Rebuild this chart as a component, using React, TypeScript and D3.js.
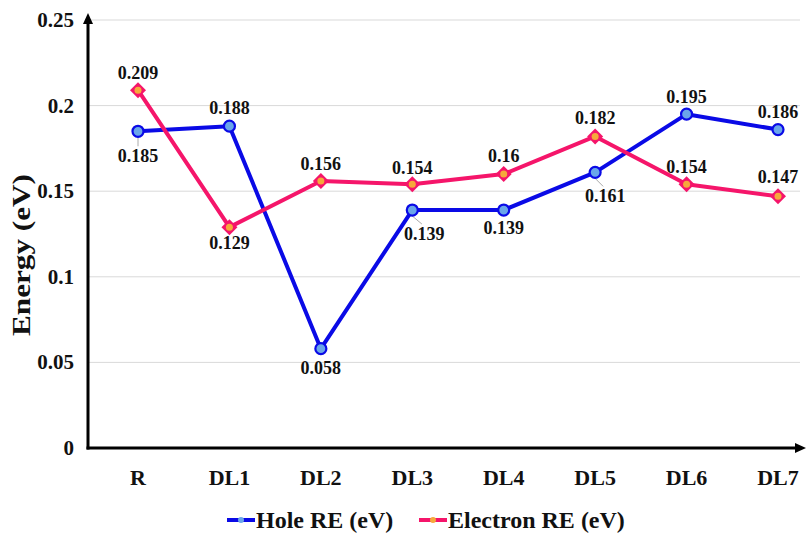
import React from "react";
import * as d3 from "d3";

const categories = ["R", "DL1", "DL2", "DL3", "DL4", "DL5", "DL6", "DL7"];
const holeRE = [0.185, 0.188, 0.058, 0.139, 0.139, 0.161, 0.195, 0.186];
const electronRE = [0.209, 0.129, 0.156, 0.154, 0.16, 0.182, 0.154, 0.147];
const yTicks = [0, 0.05, 0.1, 0.15, 0.2, 0.25];
const yTickLabels = ["0", "0.05", "0.1", "0.15", "0.2", "0.25"];

// label placement (layout only)
const holeLabelDx = [0, 0, 0, 12, 0, 10, 0, 0];
const holeLabelDy = [31, -12, 25, 30, 24, 30, -11, -12];
const holeLeader = [true, false, false, true, false, true, false, false];
const electronLabelDx = [0, 0, 0, 0, 0, 0, 0, 0];
const electronLabelDy = [-11, 22, -11, -10, -12, -12, -11, -13];

const W = 807, H = 535;
const FONT = "'Liberation Serif', 'Times New Roman', serif";
const BLUE = "#0a0ae6";
const BLUE_FILL = "#6aa6ea";
const PINK = "#f5156a";
const ORANGE = "#f6a93b";

export default function App() {
  const x = d3.scalePoint<string>().domain(categories).range([138, 778]);
  const y = d3.scaleLinear().domain([0, 0.25]).range([448, 20]);
  const line = d3.line<number>().x((_, i) => x(categories[i])!).y((d) => y(d));
  const axisX = 88;

  return (
    <div style={{ position: "absolute", left: 0, top: 0 }}>
      <svg width={W} height={H} style={{ display: "block", background: "#fff" }} fontFamily={FONT}>
        {/* gridlines */}
        {yTicks.slice(1).map((t) => (
          <line key={t} x1={axisX} x2={800} y1={y(t)} y2={y(t)} stroke="#d9d9d9" strokeWidth={1} />
        ))}
        {/* y tick labels */}
        {yTicks.map((t, i) => (
          <text key={t} x={74} y={y(t) + 7} textAnchor="end" fontSize={21} fontWeight="bold" fill="#111">
            {yTickLabels[i]}
          </text>
        ))}
        {/* axes */}
        <line x1={axisX} x2={axisX} y1={449.5} y2={22} stroke="#000" strokeWidth={3} />
        <path d={`M${axisX - 5},24 L${axisX},13 L${axisX + 5},24 Z`} fill="#000" />
        <line x1={axisX - 1.5} x2={797} y1={448} y2={448} stroke="#000" strokeWidth={3} />
        <path d={`M795,443 L806,448 L795,453 Z`} fill="#000" />
        {/* x labels */}
        {categories.map((c) => (
          <text key={c} x={x(c)} y={485} textAnchor="middle" fontSize={22} fontWeight="bold" fill="#111">
            {c}
          </text>
        ))}
        {/* y title */}
        <text
          transform={`translate(30,255) rotate(-90)`}
          textAnchor="middle"
          fontSize={25}
          fontWeight="bold"
          fill="#111"
          textLength={162}
          lengthAdjust="spacingAndGlyphs"
        >
          Energy (eV)
        </text>
        {/* leader lines */}
        {holeRE.map((v, i) =>
          holeLeader[i] ? (
            <line
              key={i}
              x1={x(categories[i])}
              y1={y(v) + 6}
              x2={x(categories[i])! + holeLabelDx[i] * 0.8}
              y2={y(v) + holeLabelDy[i] - 16}
              stroke="#aaa"
              strokeWidth={1}
            />
          ) : null
        )}
        {/* lines */}
        <path d={line(holeRE) || ""} fill="none" stroke={BLUE} strokeWidth={4} strokeLinejoin="round" />
        <path d={line(electronRE) || ""} fill="none" stroke={PINK} strokeWidth={4} strokeLinejoin="round" />
        {/* hole markers */}
        {holeRE.map((v, i) => (
          <circle key={i} cx={x(categories[i])} cy={y(v)} r={5.5} fill={BLUE_FILL} stroke={BLUE} strokeWidth={2.2} />
        ))}
        {/* electron markers */}
        {electronRE.map((v, i) => {
          const cx = x(categories[i])!;
          const cy = y(v);
          return (
            <g key={i}>
              <path d={`M${cx},${cy - 8} L${cx + 8},${cy} L${cx},${cy + 8} L${cx - 8},${cy} Z`} fill={PINK} />
              <circle cx={cx} cy={cy} r={3.5} fill={ORANGE} />
            </g>
          );
        })}
        {/* hole labels */}
        {holeRE.map((v, i) => (
          <text
            key={i}
            x={x(categories[i])! + holeLabelDx[i]}
            y={y(v) + holeLabelDy[i]}
            textAnchor="middle"
            fontSize={18}
            fontWeight="bold"
            fill="#111"
          >
            {String(v)}
          </text>
        ))}
        {/* electron labels */}
        {electronRE.map((v, i) => (
          <text
            key={i}
            x={x(categories[i])! + electronLabelDx[i]}
            y={y(v) + electronLabelDy[i]}
            textAnchor="middle"
            fontSize={18}
            fontWeight="bold"
            fill="#111"
          >
            {String(v)}
          </text>
        ))}
        {/* legend */}
        <g>
          <line x1={227} x2={255} y1={520} y2={520} stroke={BLUE} strokeWidth={4} />
          <circle cx={241} cy={520} r={3} fill={BLUE_FILL} />
          <text x={256} y={528} fontSize={24} fontWeight="bold" fill="#111">Hole RE (eV)</text>
          <line x1={419} x2={447} y1={520} y2={520} stroke={PINK} strokeWidth={4} />
          <circle cx={433} cy={520} r={3} fill={ORANGE} />
          <text x={448} y={528} fontSize={24} fontWeight="bold" fill="#111">Electron RE (eV)</text>
        </g>
      </svg>
    </div>
  );
}
